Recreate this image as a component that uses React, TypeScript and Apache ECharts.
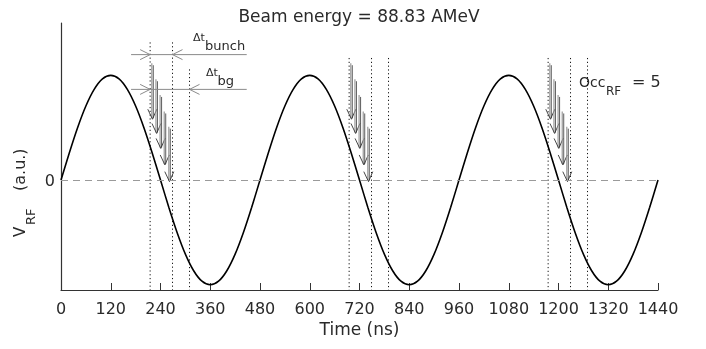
import React, { useEffect, useRef } from 'react';
import * as echarts from 'echarts';

// RF voltage waveform (time in ns, normalized voltage), read every 20 ns
const sineTimes = [
  0, 20, 40, 60, 80, 100, 120, 140, 160, 180, 200, 220,
  240, 260, 280, 300, 320, 340, 360, 380, 400, 420, 440, 460,
  480, 500, 520, 540, 560, 580, 600, 620, 640, 660, 680, 700,
  720, 740, 760, 780, 800, 820, 840, 860, 880, 900, 920, 940,
  960, 980, 1000, 1020, 1040, 1060, 1080, 1100, 1120, 1140, 1160, 1180,
  1200, 1220, 1240, 1260, 1280, 1300, 1320, 1340, 1360, 1380, 1400, 1420,
  1440,
];
const sineValues = [
  0, 0.259, 0.5, 0.707, 0.866, 0.966, 1, 0.966, 0.866, 0.707, 0.5, 0.259,
  0, -0.259, -0.5, -0.707, -0.866, -0.966, -1, -0.966, -0.866, -0.707, -0.5, -0.259,
  0, 0.259, 0.5, 0.707, 0.866, 0.966, 1, 0.966, 0.866, 0.707, 0.5, 0.259,
  0, -0.259, -0.5, -0.707, -0.866, -0.966, -1, -0.966, -0.866, -0.707, -0.5, -0.259,
  0, 0.259, 0.5, 0.707, 0.866, 0.966, 1, 0.966, 0.866, 0.707, 0.5, 0.259,
  0, -0.259, -0.5, -0.707, -0.866, -0.966, -1, -0.966, -0.866, -0.707, -0.5, -0.259,
  0,
];

// dotted window limits
const windowTimes = [215, 269, 310, 695, 749, 790, 1175, 1229, 1270];
const windowTops = [1.315, 1.315, 1.057, 1.166, 1.166, 1.166, 1.166, 1.166, 1.166];

// bunch arrows
const arrowTimes = [219, 229, 239, 249, 260, 699, 709, 719, 729, 740, 1179, 1189, 1199, 1209, 1220];
const arrowTops = [1.116, 0.963, 0.813, 0.655, 0.51, 1.116, 0.963, 0.813, 0.655, 0.51, 1.116, 0.963, 0.813, 0.655, 0.51];
const arrowTips = [0.581, 0.445, 0.302, 0.144, -0.015, 0.581, 0.445, 0.302, 0.144, -0.015, 0.581, 0.445, 0.302, 0.144, -0.015];

// Δt brackets
const bracketSpanStart = [169, 169];
const bracketSpanEnd = [448, 448];
const bracketFrom = [215, 215];
const bracketTo = [269, 310];
const bracketLevel = [1.198, 0.866];

const beamEnergy = '88.83';
const occupancy = 5;

const FONT = '"DejaVu Sans", sans-serif';
const TXT = '#2a2a2a';

export default function App() {
  const ref = useRef<HTMLDivElement>(null);
  useEffect(() => {
    if (!ref.current) return;
    const chart = echarts.init(ref.current, undefined, { renderer: 'svg' });
    const t = (text: string, x: number, y: number, fs: number, extra: any = {}) => ({
      type: 'text',
      x,
      y,
      style: { text, fontSize: fs, fontFamily: FONT, fill: TXT, verticalAlign: 'middle', align: 'left', ...extra },
    });
    chart.setOption({
      animation: false,
      grid: { left: 61, top: 23, right: 48, bottom: 59 },
      xAxis: {
        type: 'value',
        min: 0,
        max: 1440,
        interval: 120,
        axisLine: { onZero: false, lineStyle: { color: '#333', width: 1.2 } },
        axisTick: { inside: true, length: 7, lineStyle: { color: '#333' } },
        axisLabel: { fontSize: 16, color: TXT, margin: 10, fontFamily: FONT, formatter: (v: number) => String(v) },
        splitLine: { show: false },
        name: 'Time (ns)',
        nameLocation: 'middle',
        nameGap: 30,
        nameTextStyle: { fontSize: 17, color: TXT, fontFamily: FONT },
      },
      yAxis: {
        type: 'value',
        min: -1.05,
        max: 1.5,
        interval: 1.05,
        axisLine: { show: true, onZero: false, lineStyle: { color: '#333', width: 1.2 } },
        axisTick: { show: false },
        splitLine: { show: false },
        axisLabel: {
          fontSize: 16,
          color: TXT,
          margin: 6,
          fontFamily: FONT,
          formatter: (v: number) => (Math.abs(v) < 1e-6 ? '0' : ''),
        },
      },
      graphic: [
        {
          type: 'text',
          x: 359,
          y: 16,
          style: {
            text: `Beam energy = ${beamEnergy} {g|AMeV}`,
            fontSize: 17,
            fontFamily: FONT,
            fill: TXT,
            align: 'center',
            verticalAlign: 'middle',
            rich: { g: { fontSize: 17, fontFamily: FONT, color: '#9a9a9a' } },
          },
        },
        t('Δt', 193, 37.8, 11),
        t('bunch', 205, 45.4, 13),
        t('Δt', 206, 72.8, 11),
        t('bg', 217.5, 80, 13),
        t('Occ', 579, 81.5, 14),
        t('RF', 606, 90.5, 12),
        t(`= ${occupancy}`, 632, 81.5, 16),
        {
          type: 'group',
          x: 25,
          y: 237,
          rotation: Math.PI / 2,
          children: [
            t('V', 0, -5.3, 15),
            t('RF', 12, 5.5, 13),
            t('(a.u.)', 46, -5.6, 16),
          ],
        },
      ],
      series: [
        {
          type: 'line',
          data: sineTimes.map((x, i) => [x, sineValues[i]]),
          smooth: 0.3,
          showSymbol: false,
          lineStyle: { color: '#000', width: 1.6 },
          z: 3,
          markLine: {
            silent: true,
            symbol: 'none',
            label: { show: false },
            lineStyle: { color: '#9a9a9a', type: [7, 5], width: 1 },
            data: [{ yAxis: 0 }],
          },
        },
        {
          type: 'custom',
          data: windowTimes.map((x, i) => [x, windowTops[i]]),
          encode: { x: 0, y: 1 },
          z: 2,
          renderItem: (params: any, api: any) => {
            const top = api.coord([api.value(0), api.value(1)]);
            const bottom = params.coordSys.y + params.coordSys.height;
            return {
              type: 'line',
              shape: { x1: top[0], y1: top[1], x2: top[0], y2: bottom },
              style: { stroke: '#111', lineWidth: 1, lineDash: [1.2, 2.6] },
            };
          },
        },
        {
          type: 'custom',
          data: arrowTimes.map((x, i) => [x, arrowTops[i], arrowTips[i]]),
          encode: { x: 0, y: [1, 2] },
          z: 4,
          renderItem: (params: any, api: any) => {
            const p1 = api.coord([api.value(0), api.value(1)]);
            const p2 = api.coord([api.value(0), api.value(2)]);
            return {
              type: 'group',
              children: [
                { type: 'line', shape: { x1: p1[0], y1: p1[1], x2: p2[0], y2: p2[1] - 1 }, style: { stroke: '#9a9a9a', lineWidth: 1.2 } },
                { type: 'line', shape: { x1: p1[0] + 1.5, y1: p1[1] + 2, x2: p2[0] + 1.5, y2: p2[1] - 1 }, style: { stroke: '#333', lineWidth: 0.8 } },
                {
                  type: 'polyline',
                  shape: { points: [[p2[0] - 4, p2[1] - 10], [p2[0] + 0.7, p2[1]], [p2[0] + 5, p2[1] - 10]] },
                  style: { stroke: '#333', fill: null, lineWidth: 0.9 },
                },
              ],
            };
          },
        },
        {
          type: 'custom',
          data: bracketFrom.map((f, i) => [bracketSpanStart[i], bracketSpanEnd[i], f, bracketTo[i], bracketLevel[i]]),
          encode: { x: [0, 1], y: 4 },
          z: 4,
          renderItem: (params: any, api: any) => {
            const y = api.value(4);
            const s = api.coord([api.value(0), y]);
            const e = api.coord([api.value(1), y]);
            const a = api.coord([api.value(2), y]);
            const b = api.coord([api.value(3), y]);
            const st = { stroke: '#8a8a8a', fill: null, lineWidth: 1 };
            return {
              type: 'group',
              children: [
                { type: 'line', shape: { x1: s[0], y1: s[1], x2: e[0], y2: e[1] }, style: st },
                { type: 'polyline', shape: { points: [[a[0] - 10, a[1] - 5], [a[0], a[1]], [a[0] - 10, a[1] + 5]] }, style: st },
                { type: 'polyline', shape: { points: [[b[0] + 10, b[1] - 5], [b[0], b[1]], [b[0] + 10, b[1] + 5]] }, style: st },
              ],
            };
          },
        },
      ],
    });
    return () => chart.dispose();
  }, []);
  return <div ref={ref} style={{ position: 'fixed', left: 0, top: 0, width: 706, height: 349 }} />;
}
